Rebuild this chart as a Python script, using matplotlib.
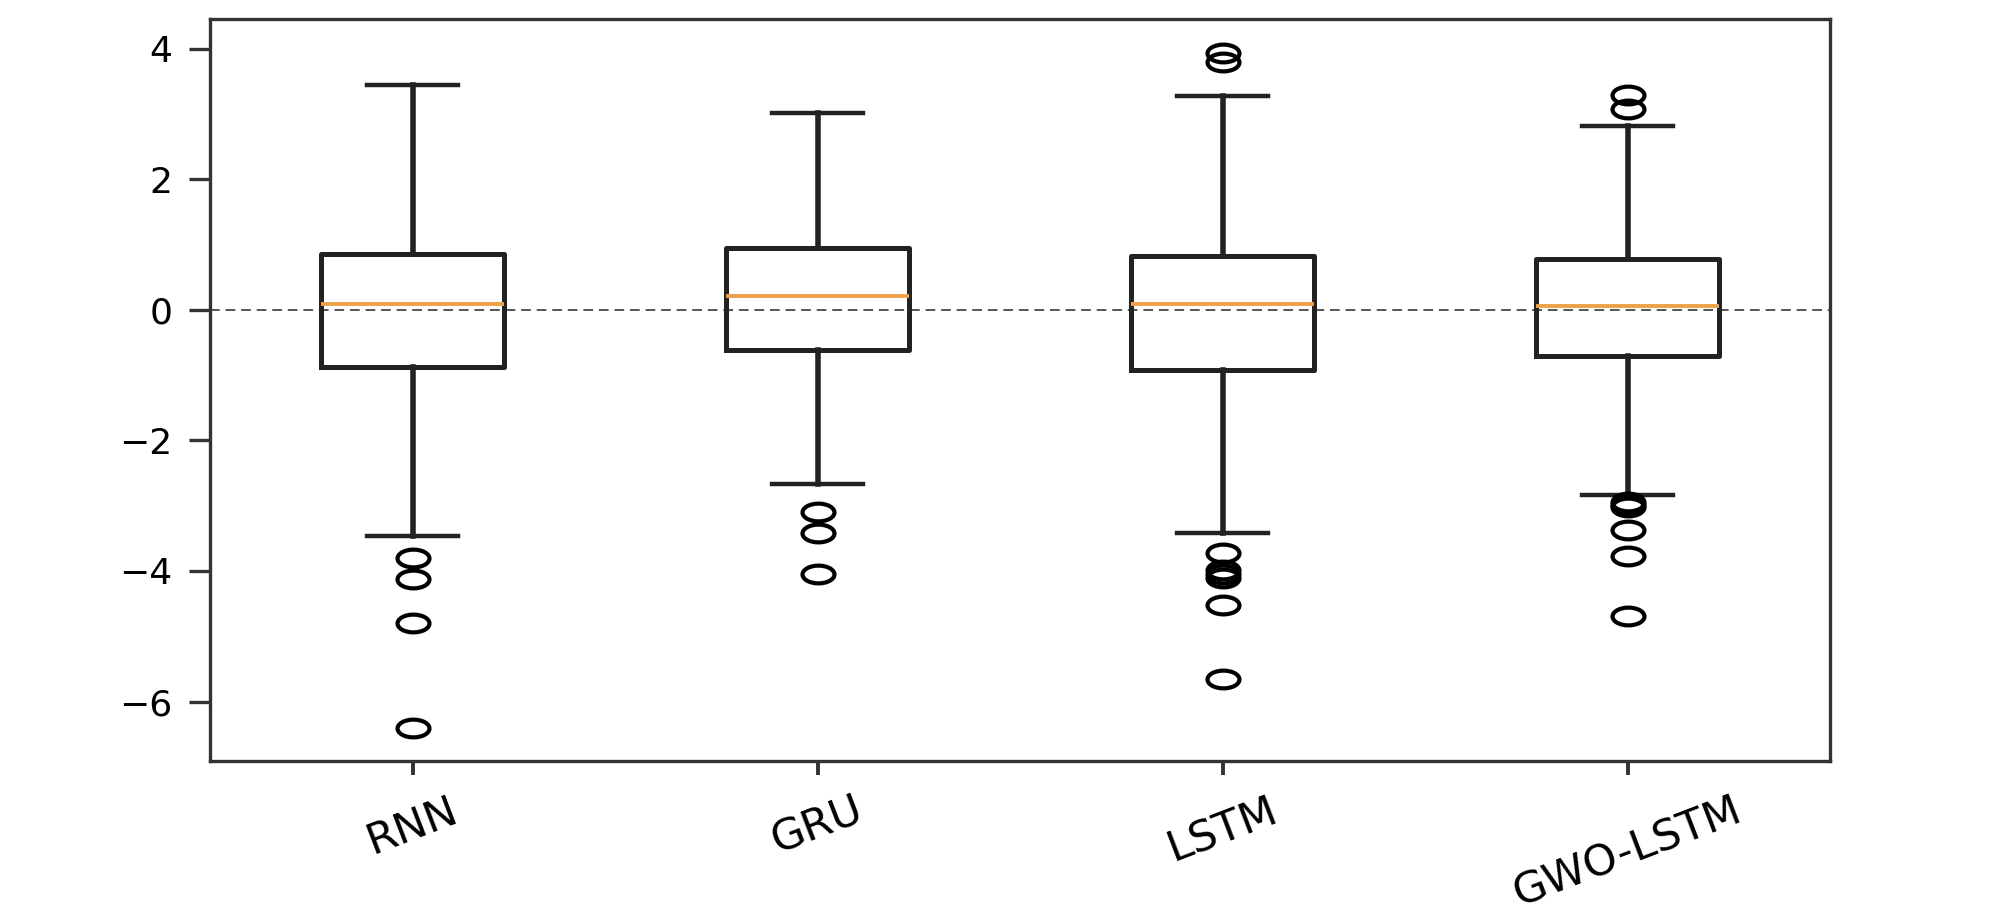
import matplotlib
matplotlib.use('Agg')
import matplotlib.pyplot as plt
from matplotlib.path import Path
import numpy as np

# box statistics
models = ['RNN', 'GRU', 'LSTM', 'GWO-LSTM']
whislo = [-3.46, -2.67, -3.42, -2.83]
q1 = [-0.88, -0.61, -0.92, -0.71]
med = [0.09, 0.21, 0.09, 0.06]
q3 = [0.85, 0.94, 0.83, 0.78]
whishi = [3.44, 3.01, 3.28, 2.82]
fliers = [
    [-3.80, -4.12, -4.80, -6.40],
    [-3.10, -3.42, -4.05],
    [3.93, 3.80, -3.73, -3.98, -4.05, -4.11, -4.52, -5.66],
    [3.29, 3.08, -2.95, -2.99, -3.02, -3.37, -3.77, -4.69],
]

stats = []
for i, name in enumerate(models):
    stats.append(dict(label=name, whislo=whislo[i], q1=q1[i], med=med[i],
                      q3=q3[i], whishi=whishi[i], fliers=fliers[i]))

# the reference is stretched sideways, so the flier circles look like ellipses
circ = Path.unit_circle()
ellipse = Path(circ.vertices * np.array([1.8, 1.0]), circ.codes)

fig = plt.figure(figsize=(20, 9.24), dpi=100)
ax = fig.add_axes([0.105, 0.176, 0.81, 0.803])

dark = '#222222'
ax.bxp(stats, widths=0.45,
       boxprops=dict(color=dark, linewidth=3.6),
       whiskerprops=dict(color=dark, linewidth=4),
       capprops=dict(color=dark, linewidth=3.2),
       medianprops=dict(color='#eda24a', linewidth=2.8),
       flierprops=dict(marker=ellipse, markersize=23, markerfacecolor='none',
                       markeredgecolor='black', markeredgewidth=3))

ax.axhline(0, color='#555555', linestyle='--', linewidth=1.4, dashes=(5, 3), zorder=0)

for s in ax.spines.values():
    s.set_color('#333333')
    s.set_linewidth(2.4)

ax.tick_params(axis='y', labelsize=26, length=15, width=2.4, pad=12, color='#333333')
ax.tick_params(axis='x', labelsize=31, length=10, width=2.8, pad=10, color='#333333')
plt.setp(ax.get_xticklabels(), rotation=21)

fig.savefig('out.png', dpi=100, facecolor='white')
